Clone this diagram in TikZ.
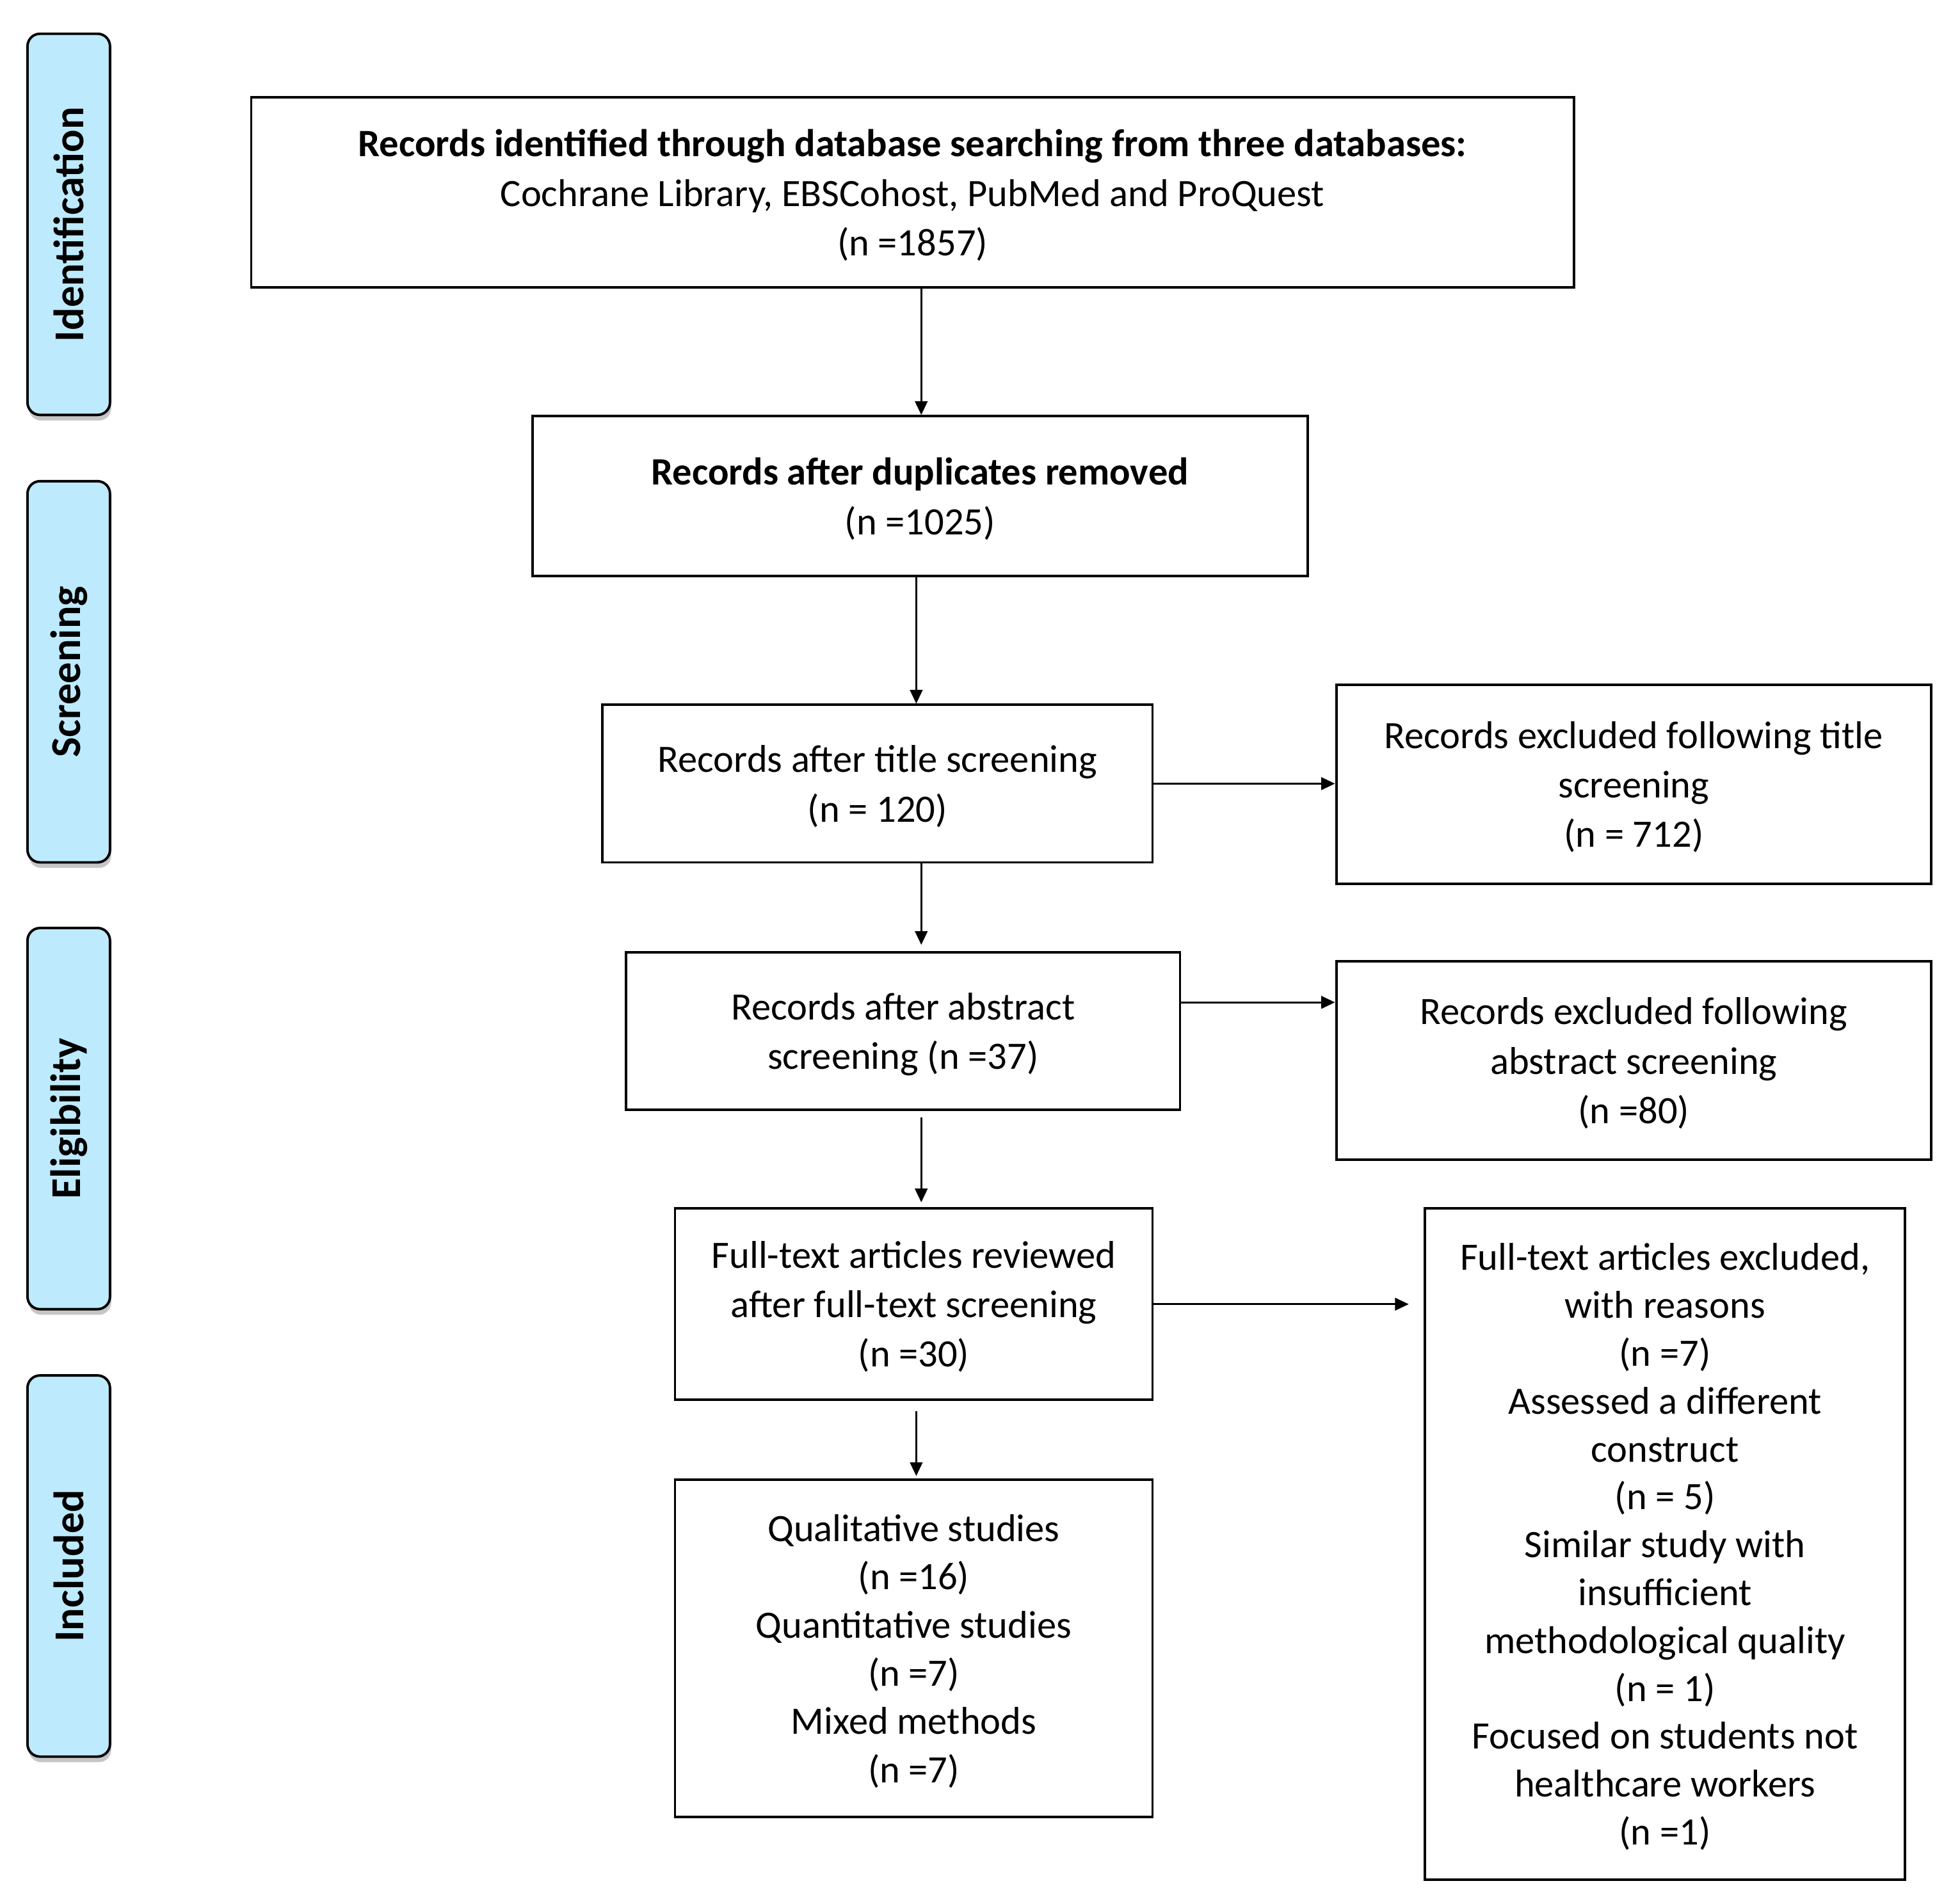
\documentclass[tikz,border=0pt]{standalone}
\usepackage{fontspec}
\setmainfont{Carlito}
\usetikzlibrary{arrows.meta}
\begin{document}
\begin{tikzpicture}[x=1pt,y=-1pt,
  box/.style={draw=black, line width=2pt, align=center, inner sep=0pt,
    font=\fontsize{31}{39.5}\selectfont, text=black, text depth=0pt},
  phase/.style={draw=black, line width=2pt, fill=phaseblue, rounded corners=10pt,
    font=\bfseries\fontsize{34}{38}\selectfont, inner sep=0pt, rotate=90},
  arr/.style={draw=black, line width=1.6pt, -{Triangle[length=11pt,width=10pt]}}]
\definecolor{phaseblue}{HTML}{BEEAFD}
\useasboundingbox (0,0) rectangle (1568,1523.4);
% phase labels
\foreach \nm/\yy/\txt in {pid/179.5/Identification, psc/537.5/Screening, pel/895/Eligibility, pin/1253/Included}{
  \fill[gray!45, rounded corners=10pt] (23,\yy-150.5) ++(0,2.5) rectangle ++(66,305);
  \node[phase, minimum width=305pt, minimum height=66pt] (\nm) at (55,\yy) {\txt};
}
% main boxes
\node[box, minimum width=1058pt, minimum height=152pt] (b1) at (730,154)
  {\textbf{Records identified through database searching from three databases:}\\
   Cochrane Library, EBSCohost, PubMed and ProQuest\\(n =1857)};
\node[box, minimum width=620pt, minimum height=128pt] (b2) at (736,397)
  {\textbf{Records after duplicates removed}\\(n =1025)};
\node[box, minimum width=440pt, minimum height=126pt] (b3) at (702,627)
  {Records after title screening\\(n = 120)};
\node[box, minimum width=476pt, minimum height=159pt] (r1) at (1307,627.5)
  {Records excluded following title\\screening\\(n = 712)};
\node[box, minimum width=443pt, minimum height=126pt] (b4) at (722.5,825)
  {Records after abstract\\screening (n =37)};
\node[box, minimum width=476pt, minimum height=159pt] (r2) at (1307,848.5)
  {Records excluded following\\abstract screening\\(n =80)};
\node[box, minimum width=382pt, minimum height=153pt] (b5) at (731,1043.5)
  {Full-text articles reviewed\\after full-text screening\\(n =30)};
\node[box, minimum width=384pt, minimum height=537pt, font=\fontsize{31}{38.3}\selectfont] (r3) at (1332,1235.5)
  {Full-text articles excluded,\\with reasons\\(n =7)\\Assessed a different\\construct\\(n = 5)\\Similar study with\\insufficient\\methodological quality\\(n = 1)\\Focused on students not\\healthcare workers\\(n =1)};
\node[box, minimum width=382pt, minimum height=270pt, font=\fontsize{31}{38.6}\selectfont] (b6) at (731,1319)
  {Qualitative studies\\(n =16)\\Quantitative studies\\(n =7)\\Mixed methods\\(n =7)};
% connector guides
\coordinate (x1) at (737,0);
\coordinate (x2) at (733,0);
\coordinate (y4) at (0,802);
% connectors
\draw[arr] (b1.south -| x1) -- (b2.north -| x1);
\draw[arr] (b2.south -| x2) -- (b3.north -| x2);
\draw[arr] (b3.east) -- (r1.west |- b3.east);
\draw[arr, shorten >=5pt] (b3.south -| x1) -- (b4.north -| x1);
\draw[arr] (b4.east |- y4) -- (r2.west |- y4);
\draw[arr, shorten <=5pt, shorten >=4pt] (b4.south -| x1) -- (b5.north -| x1);
\draw[arr, shorten >=12pt] (b5.east) -- (r3.west |- b5.east);
\draw[arr, shorten <=8pt, shorten >=2pt] (b5.south -| x2) -- (b6.north -| x2);
\end{tikzpicture}
\end{document}
